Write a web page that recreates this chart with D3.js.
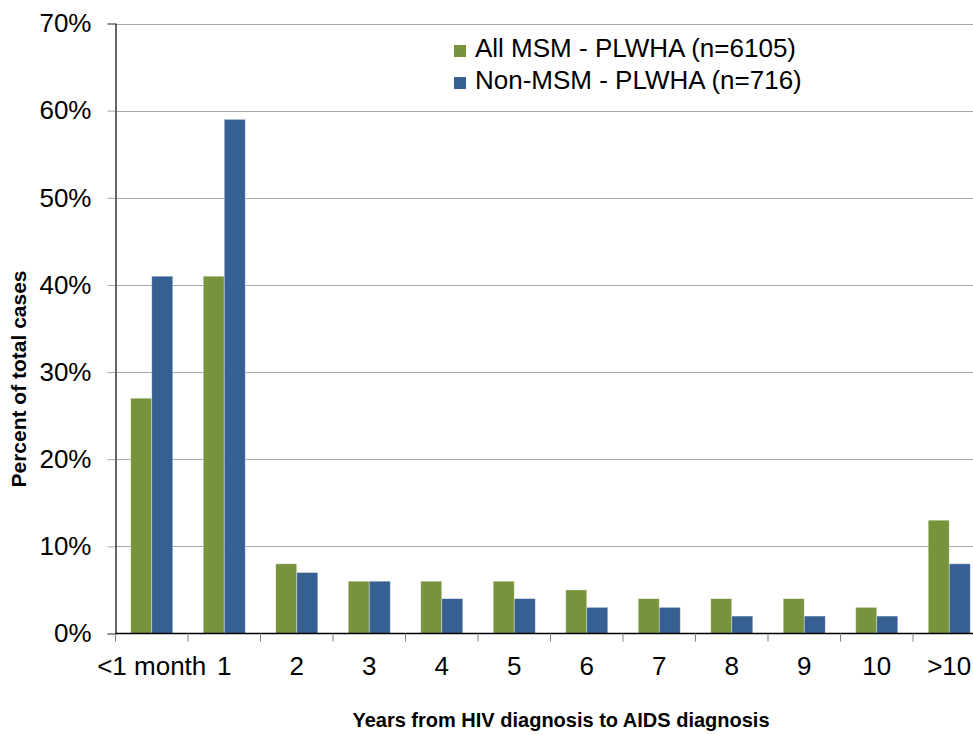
<!DOCTYPE html>
<html>
<head>
<meta charset="utf-8">
<script src="https://cdn.jsdelivr.net/npm/d3@7"></script>
<style>
  html, body { margin: 0; padding: 0; background: #fff; }
  svg { display: block; font-family: "Liberation Sans", Arial, sans-serif; }
</style>
</head>
<body>
<svg id="chart" width="973" height="735"></svg>
<script>
// Interval from HIV diagnosis to AIDS diagnosis, share of cases per group
const categories = ["<1 month", "1", "2", "3", "4", "5", "6", "7", "8", "9", "10", ">10"];
const msmValues    = [27, 41, 8, 6, 6, 6, 5, 4, 4, 4, 3, 13];
const nonMsmValues = [41, 59, 7, 6, 4, 4, 3, 3, 2, 2, 2, 8];
const seriesNames  = ["All MSM - PLWHA (n=6105)", "Non-MSM - PLWHA (n=716)"];
const seriesColors = ["#77933c", "#366092"];
const yTicks = [0, 10, 20, 30, 40, 50, 60, 70];

const svg = d3.select("#chart");
const plotLeft = 115.5, plotTop = 23.5, plotBottom = 633.5;
const bandW = 72.5;
const plotRight = plotLeft + bandW * categories.length;   // plot runs past the page edge

const x = d3.scaleBand().domain(categories).range([plotLeft, plotRight]).paddingInner(0).paddingOuter(0);
const y = d3.scaleLinear().domain([0, 70]).range([plotBottom, plotTop]);
const groupPad = 0.21;
const x1 = d3.scaleBand().domain([0, 1]).range([x.bandwidth() * groupPad, x.bandwidth() * (1 - groupPad)]);

// horizontal gridlines
svg.append("g")
  .selectAll("line").data(yTicks.filter(d => d > 0)).join("line")
  .attr("x1", plotLeft).attr("x2", plotRight)
  .attr("y1", d => Math.round(y(d)) + 0.5).attr("y2", d => Math.round(y(d)) + 0.5)
  .attr("stroke", "#a6a6a6").attr("stroke-width", 1);

// bars
const series = [msmValues, nonMsmValues];
const groups = svg.append("g").selectAll("g").data(categories).join("g")
  .attr("transform", d => `translate(${x(d)},0)`);
groups.selectAll("rect")
  .data((c, i) => series.map((vals, s) => ({ s, v: vals[i] })))
  .join("rect")
  .attr("x", d => x1(d.s))
  .attr("width", x1.bandwidth())
  .attr("y", d => y(d.v))
  .attr("height", d => plotBottom - y(d.v))
  .attr("fill", d => seriesColors[d.s])
  .attr("stroke", "rgba(255,255,255,0.45)")
  .attr("stroke-width", 0.8);

// y axis
const yAxis = d3.axisLeft(y).tickValues(yTicks).tickFormat(d => d + "%").tickSize(8).tickPadding(16);
const yg = svg.append("g").attr("transform", `translate(${plotLeft},0)`).call(yAxis);
yg.select(".domain").attr("stroke", "#000").attr("stroke-width", 1.2);
yg.selectAll(".tick line").attr("stroke", "#a6a6a6");
yg.selectAll(".tick text").attr("font-size", 26).attr("fill", "#000")
  .attr("font-family", "Liberation Sans, Arial, sans-serif");

// x axis with ticks between categories
const xg = svg.append("g").attr("transform", `translate(0,${plotBottom})`);
xg.append("line").attr("x1", plotLeft).attr("x2", plotRight).attr("stroke", "#000").attr("stroke-width", 1.5);
xg.selectAll("line.tk").data(d3.range(categories.length + 1)).join("line").attr("class", "tk")
  .attr("x1", i => plotLeft + i * bandW).attr("x2", i => plotLeft + i * bandW)
  .attr("y1", 0).attr("y2", 8).attr("stroke", "#808080");
xg.selectAll("text").data(categories).join("text")
  .attr("x", d => x(d) + x.bandwidth() / 2)
  .attr("y", 41.5)
  .attr("text-anchor", "middle")
  .attr("font-size", 26)
  .attr("fill", "#000")
  .text(d => d);

// axis titles
svg.append("text")
  .attr("x", 561).attr("y", 727)
  .attr("text-anchor", "middle")
  .attr("font-size", 20).attr("font-weight", "bold")
  .text("Years from HIV diagnosis to AIDS diagnosis");
svg.append("text")
  .attr("transform", "translate(26,379) rotate(-90)")
  .attr("text-anchor", "middle")
  .attr("font-size", 21).attr("font-weight", "bold")
  .text("Percent of total cases");

// legend
const legend = svg.append("g").attr("transform", "translate(454,45)");
const li = legend.selectAll("g").data(seriesNames).join("g")
  .attr("transform", (d, i) => `translate(0,${i * 32})`);
li.append("rect").attr("width", 12).attr("height", 12).attr("fill", (d, i) => seriesColors[i]);
li.append("text").attr("x", 21).attr("y", 12).attr("font-size", 26).attr("fill", "#000").text(d => d);
</script>
</body>
</html>
